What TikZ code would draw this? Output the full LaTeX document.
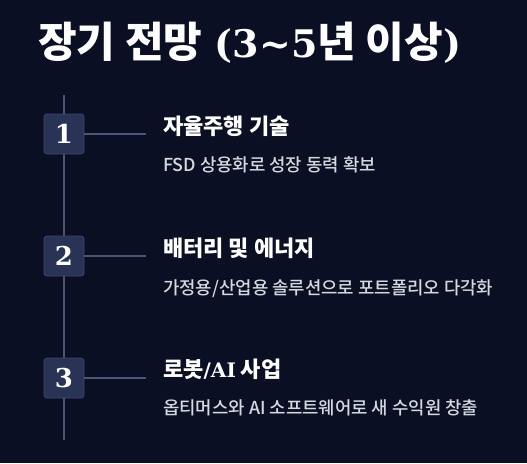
\documentclass[tikz,border=0pt]{standalone}
\usepackage{fontspec}
\newfontfamily\kr{Noto Sans CJK KR}
\newfontfamily\krm{Noto Sans CJK KR Medium}
\newfontfamily\dvs{DejaVu Serif}
\definecolor{bg}{HTML}{0A0F24}
\definecolor{boxfill}{HTML}{283356}
\definecolor{boxline}{HTML}{3C4770}
\definecolor{linec}{HTML}{4A5578}
\definecolor{subc}{HTML}{D6D9E0}
\tikzset{
  numbox/.style={draw=boxline, line width=0.8pt, fill=boxfill, rounded corners=3pt, minimum width=40pt, minimum height=40pt, inner sep=0pt, text=white, font=\dvs\bfseries\fontsize{26}{26}\selectfont},
  headtxt/.style={anchor=base west, inner sep=0pt, text=white, font=\kr\bfseries\fontsize{22}{22}\selectfont},
  subtxt/.style={anchor=base west, inner sep=0pt, text=subc, font=\krm\fontsize{17.8}{18}\selectfont},
  conn/.style={draw=linec, line width=1.4pt}
}
\begin{document}
\begin{tikzpicture}[x=1pt,y=-1pt]
\fill[bg] (0,0) rectangle (527,463);
\useasboundingbox (0,0) rectangle (527,463);
\node[anchor=base west, inner sep=0pt, text=white, font=\kr\bfseries\fontsize{42}{42}\selectfont] (title) at (38,57) {장기 전망\hspace{0.3em}{\dvs\fontsize{38}{38}\selectfont(3\char`~5}년 이상{\dvs\fontsize{38}{38}\selectfont)}};
\coordinate (ltop) at (64,95);
\coordinate (lbot) at (64,440);
\draw[conn] (ltop) -- (lbot);
\node[numbox] (b1) at (64,134) {1};
\node[numbox] (b2) at (64,256) {2};
\node[numbox] (b3) at (64,378) {3};
\coordinate (c1) at (146,134);
\coordinate (c2) at (146,256);
\coordinate (c3) at (146,378);
\draw[conn] (b1.east) -- (c1);
\draw[conn] (b2.east) -- (c2);
\draw[conn] (b3.east) -- (c3);
\node[headtxt] (h1) at (163,134) {자율주행 기술};
\node[subtxt] (s1) at (163,171) {FSD 상용화로 성장 동력 확보};
\node[headtxt] (h2) at (163,256) {배터리 및 에너지};
\node[subtxt] (s2) at (163,294) {가정용/산업용 솔루션으로 포트폴리오 다각화};
\node[headtxt] (h3) at (163,377) {로봇{\dvs\fontsize{20}{20}\selectfont/AI} 사업};
\node[subtxt] (s3) at (163,414) {옵티머스와 AI 소프트웨어로 새 수익원 창출};
\end{tikzpicture}
\end{document}
